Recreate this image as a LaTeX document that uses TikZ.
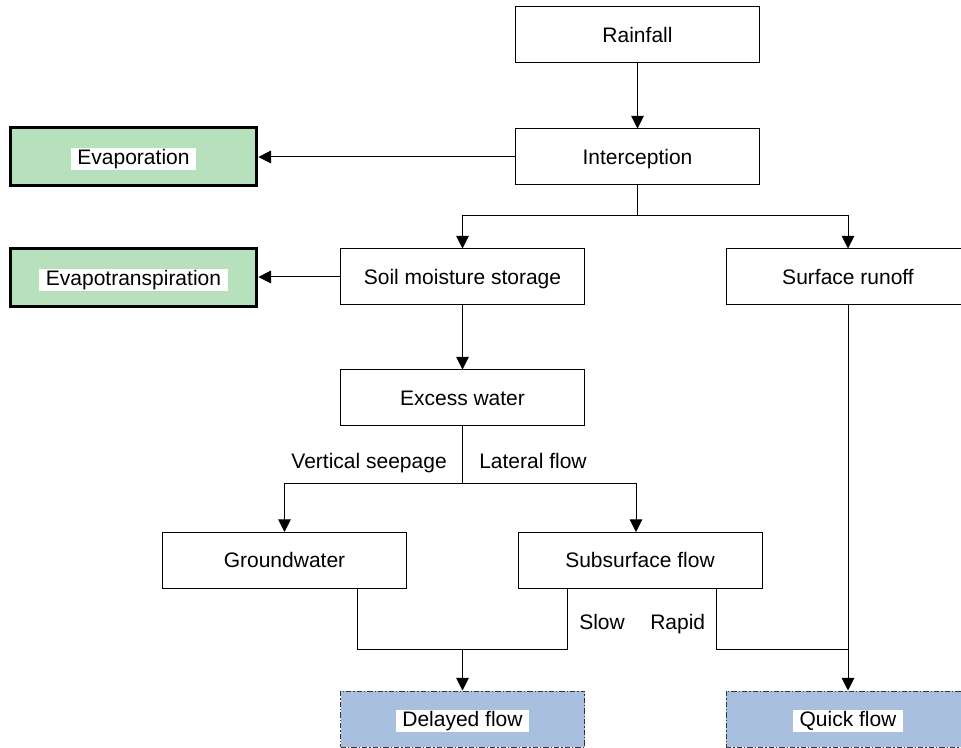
\documentclass[tikz,border=0pt]{standalone}
\usepackage{fontspec}
\setmainfont{Liberation Sans}
\usetikzlibrary{arrows.meta}
\definecolor{evgreen}{HTML}{B7E1BD}
\definecolor{flowblue}{HTML}{A9BFE0}
\definecolor{dashgray}{HTML}{333333}
\newcommand{\whitelabel}[1]{{\setlength{\fboxsep}{1pt}\colorbox{white}{\hspace{4pt}\vphantom{Ag}#1\hspace{4pt}}}}
\begin{document}
\begin{tikzpicture}[x=0.75pt,y=-0.75pt,
  every node/.style={font=\fontsize{15.75}{18}\selectfont},
  box/.style={draw=black,line width=0.75pt,fill=white,minimum width=183pt,minimum height=42pt,inner sep=0pt,
    text height=13pt,text depth=2pt},
  gbox/.style={draw=black,line width=2.25pt,fill=evgreen,minimum width=185pt,minimum height=43.5pt,inner sep=0pt,
    text height=13pt,text depth=2pt},
  bbox/.style={draw=dashgray,line width=0.75pt,fill=flowblue,minimum width=183pt,minimum height=42pt,inner sep=0pt,
    text height=13pt,text depth=2pt,dash pattern=on 4pt off 1.5pt on 1pt off 1.5pt},
  conn/.style={draw=black,line width=0.75pt},
  arr/.style={conn,-{Triangle[length=9.5pt,width=9.5pt]}},
  lbl/.style={inner sep=0pt}]
\useasboundingbox (0,0) rectangle (961,748);
\node[box] (rain) at (637.5,35) {Rainfall};
\node[box] (inter) at (637.5,157) {Interception};
\node[gbox] (evap) at (133.5,157) {\whitelabel{Evaporation}};
\node[gbox] (evapt) at (133.5,278) {\whitelabel{Evapotranspiration}};
\node[box] (soil) at (462.5,277) {Soil moisture storage};
\node[box] (surf) at (848,277) {Surface runoff};
\node[box] (excess) at (462.5,398) {Excess water};
\node[box] (ground) at (284.5,560.5) {Groundwater};
\node[box] (subs) at (640,560.5) {Subsurface flow};
\node[bbox] (delayed) at (462.5,719) {\whitelabel{Delayed flow}};
\node[bbox] (quick) at (848,719) {\whitelabel{Quick flow}};
% junction coordinates
\coordinate (j1) at (637.5,216);
\coordinate (j2) at (462.5,484);
\coordinate (j3) at (462.5,649);
\coordinate (sl) at (567,649);
\coordinate (gl) at (357,649);
\coordinate (rp) at (716,649);
% connectors
\draw[arr] (rain) -- (inter);
\draw[arr] (inter.west) -- (inter.west -| evap.east);
\draw[arr] (soil.west) -- (soil.west -| evapt.east);
\draw[conn] (inter.south) -- (j1);
\draw[arr] (j1) -| (soil.north);
\draw[arr] (j1) -| (surf.north);
\draw[arr] (soil) -- (excess);
\draw[conn] (excess.south) -- (j2);
\draw[arr] (j2) -| (ground.north);
\draw[arr] (j2) -| (subs.north -| 636,0);
\draw[conn] (ground.south -| gl) -- (gl) -- (sl) -- (subs.south -| sl);
\draw[arr] (j3) -- (delayed.north);
\draw[conn] (subs.south -| rp) -- (rp) -- (rp -| quick.north);
\draw[arr] (surf.south) -- (quick.north);
% labels
\node[lbl,anchor=base east] (vs) at (447,468.5) {Vertical seepage};
\node[lbl,anchor=base west] (lf) at (479,468.5) {Lateral flow};
\node[lbl,anchor=base west] (slow) at (579,629.5) {Slow};
\node[lbl,anchor=base west] (rapid) at (650,629.5) {Rapid};
\end{tikzpicture}
\end{document}
